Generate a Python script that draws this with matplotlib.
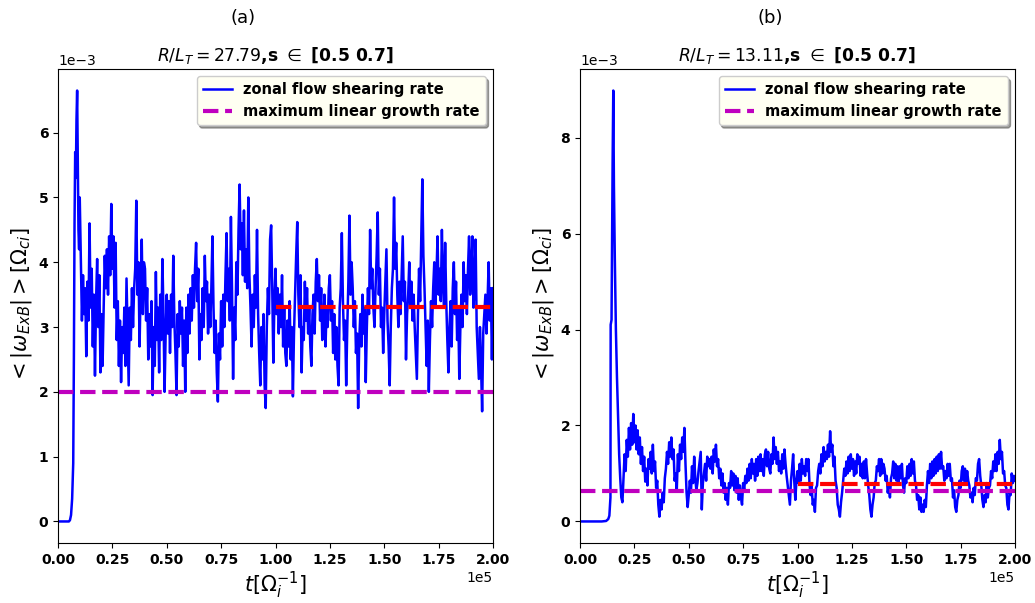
import numpy as np
import matplotlib
matplotlib.use("Agg")
import matplotlib.pyplot as plt

# ---------------- data (values in units of 1e-3) ----------------
# panel (a): start-up phase
t_start_a = [0, 3000, 5000, 5500, 6000, 6500, 7000, 7300, 7600, 7900,
             8200, 8500, 8800, 9100, 9400, 9700]
v_start_a = [0, 0, 0, 0.02, 0.1, 0.35, 0.9, 2.5, 4.6, 5.7,
             5.3, 6.2, 6.65, 5.6, 4.5, 4.2]
# panel (a): saturated phase, sampled every 500 from t=1.0e4 to 2.0e5
t_step = 500
v_sat_a = [
    5.0, 4.0, 3.1, 3.8, 3.2, 3.6, 2.55, 3.7, 3.1, 4.6, 3.3, 3.9, 2.7, 3.5, 2.25, 3.4, 4.05, 3.0, 3.8, 2.3,
    3.2, 2.4, 3.3, 4.1, 3.6, 4.2, 3.5, 4.4, 3.8, 4.9, 3.9, 4.4, 3.3, 4.3, 2.8, 3.4, 2.4, 3.1, 2.15, 3.0,
    2.6, 3.3, 2.4, 3.75, 2.9, 2.1, 3.3, 2.8, 3.6, 3.0, 3.6, 3.9, 4.95, 3.5, 4.0, 2.7, 3.6, 4.35, 3.2, 4.0,
    3.9, 3.1, 3.6, 2.5, 3.2, 2.7, 3.4, 1.95, 3.0, 2.4, 3.85, 2.8, 3.3, 2.3, 3.5, 2.8, 4.05, 3.2, 2.0, 2.9,
    3.5, 2.9, 3.4, 2.6, 3.5, 3.0, 4.1, 3.1, 2.6, 1.95, 3.2, 2.7, 3.4, 2.9, 3.3, 2.4, 3.1, 2.0, 3.3, 2.6,
    3.5, 2.9, 3.6, 3.1, 3.8, 3.3, 3.9, 4.3, 3.4, 3.9, 2.5, 3.2, 2.8, 3.6, 3.0, 4.1, 3.4, 3.7, 2.9, 3.5,
    3.0, 3.6, 4.4, 3.3, 2.6, 3.1, 2.3, 1.85, 2.9, 2.5, 3.4, 2.7, 3.5, 3.0, 3.8, 4.45, 3.4, 3.9, 3.1, 4.7,
    3.6, 2.2, 3.3, 2.8, 4.0, 3.5, 4.5, 5.2, 4.2, 4.6, 3.8, 4.8, 3.7, 4.2, 3.6, 5.0, 3.8, 3.3, 2.7, 3.5,
    3.0, 3.8, 3.3, 4.5, 3.2, 2.6, 2.1, 3.0, 2.5, 3.2, 2.1, 1.75, 3.0, 3.6, 3.2, 4.35, 4.57, 3.6, 2.45, 3.4,
    3.9, 3.2, 3.6, 2.9, 3.5, 3.0, 3.8, 2.7, 3.3, 2.6, 2.4, 3.1, 2.7, 3.4, 2.5, 3.0, 1.93, 2.9, 3.5, 4.1,
    4.62, 3.5, 3.0, 3.8, 2.3, 3.0, 2.8, 3.7, 3.1, 3.6, 2.9, 3.3, 2.7, 2.4, 3.2, 3.5, 2.9, 3.7, 4.05, 3.4,
    3.8, 3.1, 3.6, 2.8, 3.0, 3.5, 2.7, 3.3, 3.0, 3.6, 3.8, 3.1, 3.4, 2.6, 3.2, 2.5, 3.0, 2.4, 2.1, 3.3,
    3.6, 4.45, 3.4, 2.8, 3.1, 2.1, 3.0, 3.7, 4.72, 3.5, 4.0, 3.6, 3.0, 3.4, 2.6, 2.9, 1.75, 2.8, 3.2, 2.7,
    3.5, 2.9, 3.3, 2.15, 3.0, 3.6, 3.2, 4.5, 3.6, 3.9, 3.3, 3.0, 3.6, 4.1, 4.77, 3.5, 3.9, 3.0, 3.3, 2.6,
    3.2, 3.7, 4.2, 3.1, 2.7, 2.1, 3.0, 3.6, 3.9, 5.0, 3.9, 4.3, 3.5, 3.0, 3.7, 3.2, 3.8, 4.4, 3.4, 3.7,
    2.5, 3.2, 3.5, 4.0, 3.3, 3.7, 3.1, 3.5, 3.0, 2.6, 2.2, 3.2, 3.9, 3.4, 4.3, 5.28, 4.1, 3.6, 3.0, 2.4,
    3.1, 2.0, 2.8, 3.4, 3.0, 3.6, 4.0, 3.3, 3.8, 4.4, 3.5, 3.9, 3.4, 4.5, 3.7, 3.3, 4.3, 3.4, 2.8, 2.3,
    3.0, 3.4, 2.7, 3.6, 4.0, 3.2, 3.7, 2.8, 3.3, 2.2, 3.0, 3.5, 3.0, 4.0, 3.4, 3.8, 3.2, 3.9, 4.4, 3.5,
    3.9, 4.4, 3.3, 3.6, 4.35, 3.0, 2.6, 2.2, 3.0, 2.4, 1.7, 2.9, 3.2, 3.5, 2.9, 3.4, 4.0, 3.1, 3.6, 2.5,
    3.6,
]
t_sat_start_a = 10000

# panel (b): start-up phase
t_start_b = [0, 5000, 10000, 12000, 13000, 13500, 14000, 14100, 14500, 15000,
             15300, 15600, 16000, 16500, 17000, 17500, 18000, 18500, 19000, 19500]
v_start_b = [0, 0, 0, 0.01, 0.05, 0.12, 0.5, 4.1, 4.2, 7.5,
             8.98, 7.0, 5.5, 4.0, 3.0, 2.2, 1.4, 0.9, 0.5, 0.4]
# panel (b): saturated phase, sampled every 500 from t=2.0e4 to 2.0e5
v_sat_b = [
    0.9, 1.4, 1.05, 1.7, 1.35, 1.95, 1.5, 2.05, 1.6, 2.24, 1.65, 2.0, 1.5, 1.9, 1.4, 1.75, 1.2, 1.55, 1.05, 1.35,
    0.83, 1.1, 0.75, 1.3, 1.1, 1.45, 1.0, 1.6, 1.05, 1.25, 0.7, 0.85, 0.35, 0.1, 0.45, 0.25, 0.6, 0.4, 0.9, 1.1,
    1.45, 1.2, 1.65, 1.35, 1.75, 1.3, 1.5, 0.85, 1.0, 0.65, 1.4, 1.05, 1.6, 1.3, 1.75, 1.45, 1.95, 1.2, 0.6, 0.3,
    0.55, 0.85, 0.6, 1.15, 0.8, 1.35, 0.9, 0.65, 0.8, 1.05, 1.25, 1.45, 0.25, 0.8, 1.0, 1.2, 0.85, 1.35, 1.15, 1.3,
    1.1, 1.35, 1.0, 1.5, 1.25, 1.6, 1.15, 1.3, 0.9, 1.1, 0.75, 1.0, 0.6, 0.8, 0.45, 0.7, 0.35, 0.8, 0.7, 1.05,
    0.75, 1.0, 0.65, 0.95, 0.6, 0.9, 0.45, 0.75, 0.5, 0.35, 0.8, 0.65, 0.95, 0.8, 1.1, 0.85, 1.2, 0.9, 1.3, 1.0,
    1.2, 0.85, 1.3, 0.95, 1.35, 1.05, 1.4, 1.05, 1.3, 0.95, 1.4, 1.5, 1.15, 1.45, 1.1, 1.0, 1.4, 1.2, 1.75, 1.3,
    1.55, 1.2, 1.45, 1.05, 1.25, 1.0, 1.4, 1.1, 1.5, 1.2, 0.95, 0.75, 0.55, 0.35, 0.85, 1.1, 1.4, 0.85, 0.45, 0.85,
    1.05, 0.8, 1.2, 0.85, 1.3, 1.0, 1.15, 0.95, 1.3, 1.05, 1.3, 0.8, 0.55, 0.75, 0.35, 0.45, 0.2, 0.7, 0.75, 1.05,
    1.2, 1.0, 1.4, 1.15, 1.55, 1.25, 1.45, 1.3, 1.6, 1.35, 1.88, 1.45, 1.6, 1.15, 1.35, 0.85, 0.7, 0.35, 0.25, 0.1,
    0.4, 0.6, 0.85, 1.1, 0.95, 1.25, 1.0, 1.35, 1.05, 1.4, 1.1, 1.3, 0.95, 1.25, 1.0, 1.4, 1.2, 1.35, 0.95, 1.2,
    0.9, 1.25, 0.9, 1.3, 1.0, 0.75, 0.55, 0.25, 0.1, 0.35, 0.5, 0.8, 0.85, 1.15, 1.05, 1.3, 0.95, 1.3, 1.0, 1.2,
    1.1, 0.85, 0.95, 0.6, 0.75, 0.5, 0.9, 1.0, 1.25, 0.9, 1.2, 0.85, 1.15, 0.8, 1.15, 0.9, 1.2, 0.75, 0.6, 0.9,
    0.8, 1.15, 0.9, 1.2, 0.95, 1.3, 1.0, 1.25, 0.85, 0.75, 0.45, 0.55, 0.25, 0.5, 0.2, 0.35, 0.2, 0.45, 0.3, 0.75,
    1.05, 0.8, 1.2, 0.9, 1.25, 0.95, 1.3, 1.0, 1.35, 1.05, 1.4, 1.1, 1.45, 1.1, 1.15, 0.85, 1.05, 0.9, 1.2, 0.95,
    1.2, 0.85, 0.9, 0.5, 0.65, 0.3, 0.2, 0.45, 0.55, 0.85, 0.7, 1.05, 1.15, 0.85, 1.1, 0.8, 1.05, 0.85, 0.75, 0.5,
    0.6, 0.4, 0.7, 0.55, 0.9, 0.85, 1.2, 1.3, 0.95, 0.75, 0.45, 0.3, 0.55, 0.4, 0.8, 0.5, 0.7, 0.75, 1.05, 0.9,
    1.25, 1.05, 1.4, 1.05, 1.45, 1.2, 1.7, 1.3, 1.45, 1.0, 1.05, 0.75, 0.7, 0.35, 0.25, 0.6, 0.55, 1.0, 0.8, 0.95,
    0.85,
]
t_sat_start_b = 20000

# reference levels (units of 1e-3)
gamma_lin = [2.0, 0.64]          # maximum linear growth rate (magenta)
mean_sat = [3.31, 0.78]          # mean shearing rate over second half (red)
mean_from = 1.0e5
t_end = 2.0e5

panel_labels = ["(a)", "(b)"]
rlt_values = ["27.79", "13.11"]
legend_labels = ["zonal flow shearing rate", "maximum linear growth rate"]
xlabel = r"$t[\Omega_i^{-1}]$"
ylabel = r"$<|\omega_{ExB}|>[\Omega_{ci}]$"

# ---------------- build series ----------------
def build(t_start, v_start, t0, v_sat):
    t_sat = t0 + t_step * np.arange(len(v_sat))
    t = np.concatenate([np.asarray(t_start, float), t_sat])
    v = np.concatenate([np.asarray(v_start, float), np.asarray(v_sat, float)]) * 1e-3
    return t, v

series = [build(t_start_a, v_start_a, t_sat_start_a, v_sat_a),
          build(t_start_b, v_start_b, t_sat_start_b, v_sat_b)]

# ---------------- figure ----------------
fig = plt.figure(figsize=(10.35, 6.03), dpi=100)
W, H = 1035, 603
axes = [fig.add_axes([58 / W, 60 / H, 435 / W, 474 / H]),
        fig.add_axes([580 / W, 60 / H, 435 / W, 474 / H])]
label_x = [243 / W, 770 / W]

for i, ax in enumerate(axes):
    t, v = series[i]
    ax.plot(t, v, color="blue", lw=1.8, label=legend_labels[0])
    ax.plot([0, t_end], [gamma_lin[i] * 1e-3] * 2, color="m", ls="--", lw=3,
            label=legend_labels[1])
    ax.plot([mean_from, t_end], [mean_sat[i] * 1e-3] * 2, color="red", ls="--", lw=3)
    ax.set_xlim(0, t_end)
    ax.ticklabel_format(axis="both", style="sci", scilimits=(0, 0))
    ax.xaxis.get_offset_text().set_fontsize(10)
    ax.yaxis.get_offset_text().set_fontsize(10)
    for lab in ax.get_xticklabels() + ax.get_yticklabels():
        lab.set_fontweight("bold")
        lab.set_fontsize(10)
    ax.set_xlabel(xlabel, fontsize=15, labelpad=2)
    ax.set_ylabel(ylabel, fontsize=15, labelpad=3)
    ax.set_title(r"$R/L_T=" + rlt_values[i] + r"$,s $\in$ [0.5 0.7]",
                 fontsize=12.3, fontweight="bold", pad=6)
    leg = ax.legend(loc="upper right", fancybox=True, shadow=True,
                    facecolor="#fffff2", framealpha=1.0,
                    prop={"weight": "bold", "size": 10.5})
    fig.text(label_x[i], 1 - 18 / H, panel_labels[i], ha="center", va="center",
             fontsize=13)

fig.savefig("out.png", dpi=100)
